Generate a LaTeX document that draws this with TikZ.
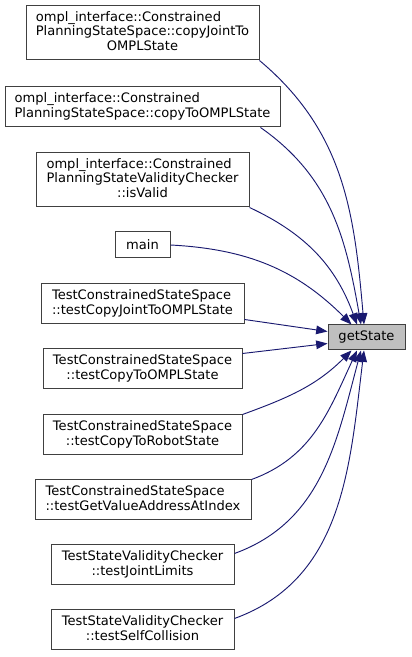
\documentclass[tikz,border=0pt]{standalone}
\usepackage{fontspec}
\setmainfont{DejaVu Sans}
\usetikzlibrary{arrows.meta,calc}
\definecolor{cgedge}{HTML}{191970}
\definecolor{cgborder}{HTML}{404040}
\definecolor{cgfill}{HTML}{BFBFBF}
\newcommand{\cglabel}[2]{\begin{tabular}{@{}l@{}}#1\\\multicolumn{1}{@{}c@{}}{#2}\end{tabular}}

\begin{document}
\begin{tikzpicture}[x=0.75pt,y=0.75pt,
    callerbox/.style={draw=cgborder,line width=0.75pt,fill=white,inner sep=0pt,
      font=\fontsize{9.8}{11}\selectfont},
    focusbox/.style={callerbox,fill=cgfill},
    boxsize/.style 2 args={minimum width=#1*0.75pt,minimum height=#2*0.75pt},
    callarrow/.style={cgedge,line width=0.7pt,-{Triangle[length=8.5pt,width=6.5pt]}}]
    \useasboundingbox (0,0) rectangle (411,657);
    \node[callerbox,boxsize={233}{54}] (n1) at (142.5,624)
      {\cglabel{ompl\_interface::Constrained\\PlanningStateSpace::copyJointTo}{OMPLState}};
    \node[callerbox,boxsize={275}{40}] (n2) at (142.5,550)
      {\cglabel{ompl\_interface::Constrained}{PlanningStateSpace::copyToOMPLState}};
    \node[callerbox,boxsize={213}{54}] (n3) at (142.5,477)
      {\cglabel{ompl\_interface::Constrained\\PlanningStateValidityChecker}{::isValid}};
    \node[callerbox,boxsize={55}{26}] (main) at (142.5,412) {main};
    \node[callerbox,boxsize={203}{40}] (n5) at (142.5,353)
      {\cglabel{TestConstrainedStateSpace}{::testCopyJointToOMPLState}};
    \node[callerbox,boxsize={199}{40}] (n6) at (142.5,288)
      {\cglabel{TestConstrainedStateSpace}{::testCopyToOMPLState}};
    \node[callerbox,boxsize={199}{40}] (n7) at (142.5,222)
      {\cglabel{TestConstrainedStateSpace}{::testCopyToRobotState}};
    \node[callerbox,boxsize={216}{40}] (n8) at (143,157)
      {\cglabel{TestConstrainedStateSpace}{::testGetValueAddressAtIndex}};
    \node[callerbox,boxsize={183}{40}] (n9) at (142.5,92)
      {\cglabel{TestStateValidityChecker}{::testJointLimits}};
    \node[callerbox,boxsize={183}{40}] (n10) at (142.5,27)
      {\cglabel{TestStateValidityChecker}{::testSelfCollision}};
    \node[focusbox,boxsize={77}{25}] (gs) at (366.5,319.5) {getState};
    % calls from above
    \draw[callarrow] (n1.south east) to[out=-40,in=95] ($(gs.north)+(-2.5,0)$);
    \draw[callarrow] ($(n2.south east)+(-20,0)$) to[out=-35,in=100] ($(gs.north)+(-5.5,0)$);
    \draw[callarrow] (n3.south east) to[out=-25,in=110] ($(gs.north)+(-9.5,0)$);
    \draw[callarrow] (main.east) to[out=-3,in=135] ($(gs.north)+(-15,0)$);
    % calls from the side
    \draw[callarrow] ($(n5.south east)+(0,5)$) -- ($(gs.west)+(0,6)$);
    \draw[callarrow] ($(n6.north east)+(0,-5)$) -- ($(gs.west)+(0,-6)$);
    % calls from below
    \draw[callarrow] (n7.north east) to[out=20,in=225] ($(gs.south)+(-15,0)$);
    \draw[callarrow] (n8.north east) to[out=20,in=245] ($(gs.south)+(-9.5,0)$);
    \draw[callarrow] ($(n9.north east)+(0,-9)$) to[out=20,in=255] ($(gs.south)+(-5.5,0)$);
    \draw[callarrow] ($(n10.north east)+(0,-9)$) to[out=20,in=263] ($(gs.south)+(-2.5,0)$);
\end{tikzpicture}
\end{document}
